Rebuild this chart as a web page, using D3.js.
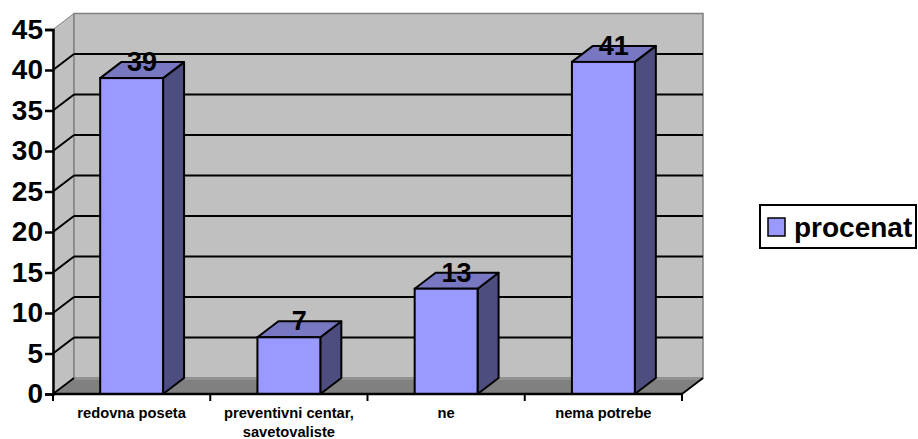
<!DOCTYPE html>
<html>
<head>
<meta charset="utf-8">
<script src="https://cdn.jsdelivr.net/npm/d3@7"></script>
<style>
  html, body { margin: 0; padding: 0; background: #fff; }
  svg { display: block; font-family: Arial, "Liberation Sans", sans-serif; }
</style>
</head>
<body>
<svg id="chart" width="918" height="439"></svg>
<script>
// Data
const categories = ["redovna poseta", "preventivni centar,\nsavetovaliste", "ne", "nema potrebe"];
const values = [39, 7, 13, 41];
const seriesName = "procenat";
const yTicks = [0, 5, 10, 15, 20, 25, 30, 35, 40, 45];

(function () {
const svg = d3.select("#chart");

// Front plane of the 3D box and its depth offset
const plotLeft = 53, plotRight = 682, plotBottom = 394, plotTop = 29.5;
const dx = 21, dy = -16;

const y = d3.scaleLinear().domain([0, 45]).range([plotBottom, plotTop]);
const xSlots = d3.scaleBand().domain(categories).range([plotLeft, plotRight]).padding(0);
const x = d3.scaleBand().domain(categories).range([plotLeft, plotRight])
  .paddingInner(0.6).paddingOuter(0.3);

const wallFill = "#c0c0c0", floorFill = "#808080", edge = "#808080";
const poly = pts => "M" + pts.map(p => p.join(",")).join("L") + "Z";

// Left side wall
svg.append("path")
  .attr("d", poly([[plotLeft, y(0)], [plotLeft, y(45)], [plotLeft + dx, y(45) + dy], [plotLeft + dx, y(0) + dy]]))
  .attr("fill", wallFill).attr("stroke", edge).attr("stroke-width", 1);
// Back wall
svg.append("path")
  .attr("d", poly([[plotLeft + dx, y(45) + dy], [plotRight + dx, y(45) + dy], [plotRight + dx, y(0) + dy], [plotLeft + dx, y(0) + dy]]))
  .attr("fill", wallFill).attr("stroke", edge).attr("stroke-width", 1.5);
// Floor
svg.append("path")
  .attr("d", poly([[plotLeft, y(0)], [plotLeft + dx, y(0) + dy], [plotRight + dx, y(0) + dy], [plotRight, y(0)]]))
  .attr("fill", floorFill).attr("stroke", "none");
svg.append("line")
  .attr("x1", plotLeft + dx).attr("x2", plotRight + dx)
  .attr("y1", y(0) + dy + 1).attr("y2", y(0) + dy + 1)
  .attr("stroke", "#999").attr("stroke-width", 1.5);
svg.append("line")
  .attr("x1", plotRight).attr("y1", y(0)).attr("x2", plotRight + dx).attr("y2", y(0) + dy)
  .attr("stroke", "#000").attr("stroke-width", 2);

// Gridlines on the back wall and the side wall
const gridVals = yTicks.filter(v => v > 0 && v < 45);
const grid = svg.append("g");
gridVals.forEach(v => {
  grid.append("line")
    .attr("x1", plotLeft + dx).attr("x2", plotRight + dx)
    .attr("y1", y(v) + dy).attr("y2", y(v) + dy)
    .attr("stroke", "#000").attr("stroke-width", 2);
});
yTicks.filter(v => v < 45).forEach(v => {
  grid.append("line")
    .attr("x1", plotLeft).attr("y1", y(v))
    .attr("x2", plotLeft + dx).attr("y2", y(v) + dy)
    .attr("stroke", "#000").attr("stroke-width", 2);
});

// Bars: front, side and top faces
const bars = svg.append("g").selectAll("g").data(categories).join("g");
bars.each(function (c, i) {
  const g = d3.select(this);
  const x0 = x(c), x1 = x(c) + x.bandwidth();
  const yt = y(values[i]), yb = y(0);
  g.append("path")
    .attr("d", poly([[x1, yb], [x1, yt], [x1 + dx, yt + dy], [x1 + dx, yb + dy]]))
    .attr("fill", "#4d4d80").attr("stroke", "#000").attr("stroke-width", 2).attr("stroke-linejoin", "round");
  g.append("path")
    .attr("d", poly([[x0, yt], [x0 + dx, yt + dy], [x1 + dx, yt + dy], [x1, yt]]))
    .attr("fill", "#7878c2").attr("stroke", "#000").attr("stroke-width", 2).attr("stroke-linejoin", "round");
  g.append("rect")
    .attr("x", x0).attr("y", yt).attr("width", x1 - x0).attr("height", yb - yt)
    .attr("fill", "#9999ff").attr("stroke", "#000").attr("stroke-width", 2);
});

// Value labels sitting on each bar's top face
svg.append("g").selectAll("text").data(categories).join("text")
  .attr("x", c => x(c) + x.bandwidth() / 2 + dx / 2)
  .attr("y", (c, i) => y(values[i]) + dy / 2 + 1)
  .attr("text-anchor", "middle")
  .attr("font-size", 27).attr("font-weight", "bold")
  .text((c, i) => values[i]);

// Value axis
const yAxis = svg.append("g").attr("transform", `translate(${plotLeft},0)`)
  .call(d3.axisLeft(y).tickValues(yTicks).tickSize(8).tickPadding(2));
yAxis.select(".domain").attr("stroke", "#000").attr("stroke-width", 2.5);
yAxis.selectAll(".tick line").attr("stroke", "#000").attr("stroke-width", 2.5);
yAxis.selectAll(".tick text")
  .attr("font-size", 28).attr("font-weight", "bold").attr("fill", "#000")
  .attr("font-family", "Arial, 'Liberation Sans', sans-serif");

// Category axis
const xAxis = svg.append("g").attr("transform", `translate(0,${plotBottom})`);
xAxis.append("line").attr("x1", plotLeft).attr("x2", plotRight).attr("y1", 0).attr("y2", 0)
  .attr("stroke", "#000").attr("stroke-width", 2.5);
const boundaries = categories.map(c => xSlots(c)).concat([plotRight]);
xAxis.selectAll("line.tick").data(boundaries).join("line").attr("class", "tick")
  .attr("x1", d => d).attr("x2", d => d).attr("y1", 0).attr("y2", 7)
  .attr("stroke", "#000").attr("stroke-width", 2);
xAxis.selectAll("text").data(categories).join("text")
  .attr("x", c => xSlots(c) + xSlots.bandwidth() / 2)
  .attr("y", 24)
  .attr("text-anchor", "middle")
  .attr("font-size", 14.7).attr("font-weight", "bold")
  .each(function (c) {
    const lines = c.split("\n");
    d3.select(this).selectAll("tspan").data(lines).join("tspan")
      .attr("x", xSlots(c) + xSlots.bandwidth() / 2)
      .attr("dy", (d, k) => k === 0 ? 0 : 19)
      .text(d => d);
  });

// Legend
const legend = svg.append("g");
legend.append("rect").attr("x", 760).attr("y", 205).attr("width", 156).attr("height", 43)
  .attr("fill", "#fff").attr("stroke", "#000").attr("stroke-width", 2);
legend.append("rect").attr("x", 768).attr("y", 218).attr("width", 17).attr("height", 18)
  .attr("fill", "#9999ff").attr("stroke", "#000").attr("stroke-width", 1.5);
legend.append("text").attr("x", 794).attr("y", 237)
  .attr("font-size", 28).attr("font-weight", "bold")
  .text(seriesName);
})();
</script>
</body>
</html>
